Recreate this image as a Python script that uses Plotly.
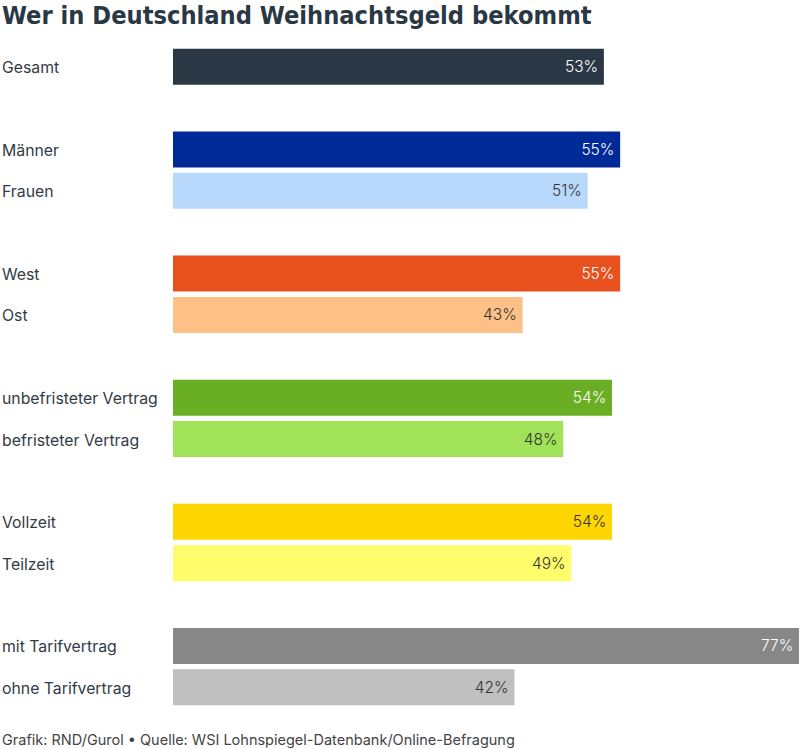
import plotly.graph_objects as go

categories = ["Gesamt", "Männer", "Frauen", "West", "Ost",
              "unbefristeter Vertrag", "befristeter Vertrag",
              "Vollzeit", "Teilzeit", "mit Tarifvertrag", "ohne Tarifvertrag"]
values = [53, 55, 51, 55, 43, 54, 48, 54, 49, 77, 42]
slots = [0, 2, 3, 5, 6, 8, 9, 11, 12, 14, 15]
colors = ["#2a3744", "#002a97", "#b8d8fc", "#e8501e", "#fdc086",
          "#6aae23", "#a0e359", "#ffd600", "#fffd6c", "#878787", "#bfbfbf"]
text_colors = ["#ffffff", "#ffffff", "#333333", "#ffffff", "#333333",
               "#ffffff", "#333333", "#333333", "#333333", "#ffffff", "#333333"]

title = "Wer in Deutschland Weihnachtsgeld bekommt"
footer = "Grafik: RND/Gurol • Quelle: WSI Lohnspiegel-Datenbank/Online-Befragung"

W, H = 800, 749
ml, mr, mt, mb = 173, 1, 46, 41

fig = go.Figure(go.Bar(
    x=values, y=slots, orientation="h",
    marker=dict(color=colors, line=dict(width=0)),
    text=[f"{v}%\u2009" for v in values],
    textposition="inside", insidetextanchor="end",
    textfont=dict(family="Inter", size=15.5, color=text_colors, weight=300),
    cliponaxis=False, hoverinfo="skip",
))

annotations = []
for c, s in zip(categories, slots):
    annotations.append(dict(
        text=c, x=-ml / (W - ml - mr), xref="paper", y=s, yref="y",
        xanchor="left", yanchor="middle", showarrow=False, yshift=-1,
        font=dict(family="Inter", size=15.8, color="#333b45", weight=400),
    ))
annotations.append(dict(
    text=f"<b>{title}</b>", x=0, y=1, xref="paper", yref="paper",
    xshift=-ml, yshift=mt + 1, xanchor="left", yanchor="top", showarrow=False,
    font=dict(family="DejaVu Sans Condensed", size=25.2, color="#2a3744"),
))
annotations.append(dict(
    text=footer, x=0, y=0, xref="paper", yref="paper",
    xshift=-ml, yshift=-mb - 2, xanchor="left", yanchor="bottom", showarrow=False,
    font=dict(family="Inter", size=14.5, color="#444444", weight=400),
))

fig.update_layout(
    width=W, height=H,
    margin=dict(l=ml, r=mr, t=mt, b=mb),
    paper_bgcolor="white", plot_bgcolor="white",
    bargap=0.13, showlegend=False,
    xaxis=dict(range=[0, 77], visible=False, fixedrange=True),
    yaxis=dict(range=[15.5, -0.5], visible=False, fixedrange=True),
    annotations=annotations,
    uniformtext=dict(minsize=15, mode="show"),
)

fig.write_html("out.html", config={"displayModeBar": False})
